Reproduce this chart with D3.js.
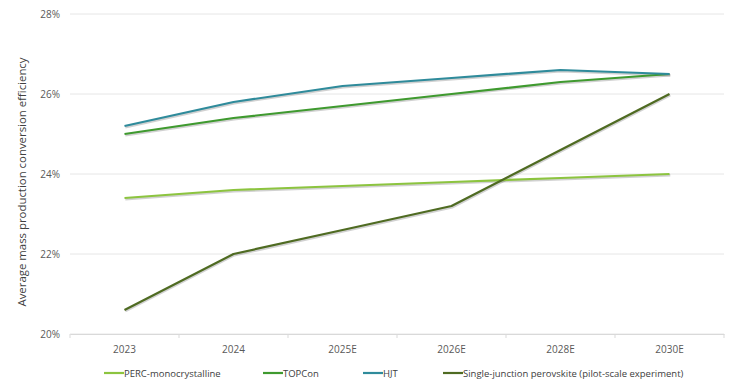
<!DOCTYPE html>
<html>
<head>
<meta charset="utf-8">
<script src="https://cdn.jsdelivr.net/npm/d3@7"></script>
<style>
  body { margin: 0; background: #fff; }
  text { font-family: "Open Sans", "Liberation Sans", sans-serif; fill: #595959; }
</style>
</head>
<body>
<div id="chart"></div>
<script>
  const years = ['2023', '2024', '2025E', '2026E', '2028E', '2030E'];
  const perc = [23.4, 23.6, 23.7, 23.8, 23.9, 24.0];
  const topcon = [25.0, 25.4, 25.7, 26.0, 26.3, 26.5];
  const hjt = [25.2, 25.8, 26.2, 26.4, 26.6, 26.5];
  const perovskite = [20.6, 22.0, 22.6, 23.2, 24.6, 26.0];
  const yTicks = [20, 22, 24, 26, 28];

  const series = [
    { name: 'PERC-monocrystalline', values: perc, color: '#8cc43f' },
    { name: 'TOPCon', values: topcon, color: '#3f9a2f' },
    { name: 'HJT', values: hjt, color: '#2f8b9b' },
    { name: 'Single-junction perovskite (pilot-scale experiment)', values: perovskite, color: '#4f6b22' }
  ];

  const width = 741;
  const height = 389;
  const margin = { top: 14, right: 17, bottom: 55, left: 70 };

  const svg = d3.select('#chart')
    .append('svg')
    .attr('width', width)
    .attr('height', height);

  const x = d3.scaleBand()
    .domain(years)
    .range([margin.left, width - margin.right]);

  const y = d3.scaleLinear()
    .domain([20, 28])
    .range([height - margin.bottom, margin.top]);

  // gridlines
  svg.append('g')
    .selectAll('line')
    .data(yTicks)
    .enter()
    .append('line')
    .attr('x1', margin.left)
    .attr('x2', width - margin.right)
    .attr('y1', d => y(d))
    .attr('y2', d => y(d))
    .style('stroke', '#e6e6e6')
    .style('stroke-width', 1);

  // y axis labels
  const yAxis = svg.append('g')
    .attr('transform', `translate(${margin.left}, 0)`)
    .call(d3.axisLeft(y).tickValues(yTicks).tickSize(0).tickPadding(10).tickFormat(d => d + '%'));
  yAxis.select('.domain').remove();
  yAxis.selectAll('text').style('font-size', '10px').style('fill', '#595959');

  // x axis
  const xAxis = svg.append('g')
    .attr('transform', `translate(0, ${y(20)})`)
    .call(d3.axisBottom(x).tickSize(0).tickPadding(12));
  xAxis.select('.domain').style('stroke', '#d9d9d9');
  xAxis.selectAll('text').style('font-size', '10px').style('fill', '#595959');

  // band edge tick marks
  svg.append('g')
    .selectAll('line')
    .data(years.concat(['end']))
    .enter()
    .append('line')
    .attr('x1', (d, i) => margin.left + i * x.step())
    .attr('x2', (d, i) => margin.left + i * x.step())
    .attr('y1', y(20))
    .attr('y2', y(20) + 4)
    .style('stroke', '#d9d9d9');

  // y axis title
  svg.append('text')
    .attr('transform', `translate(26, 182) rotate(-90)`)
    .attr('text-anchor', 'middle')
    .style('font-size', '11.4px')
    .style('fill', '#404040')
    .text('Average mass production conversion efficiency');

  const line = d3.line()
    .x((d, i) => x(years[i]) + x.bandwidth() / 2)
    .y(d => y(d));

  // shadow under lines
  svg.append('g')
    .selectAll('path')
    .data(series)
    .enter()
    .append('path')
    .attr('d', d => line(d.values))
    .attr('transform', 'translate(0.8, 1.2)')
    .style('fill', 'none')
    .style('stroke', '#000')
    .style('stroke-opacity', 0.18)
    .style('stroke-width', 2.5);

  svg.append('g')
    .selectAll('path')
    .data(series)
    .enter()
    .append('path')
    .attr('d', d => line(d.values))
    .style('fill', 'none')
    .style('stroke', d => d.color)
    .style('stroke-width', 2.2)
    .style('stroke-linejoin', 'round');

  // legend
  const legendX = [104, 263, 363, 443];
  const legend = svg.append('g').attr('transform', `translate(0, ${height - 16})`);
  series.forEach((s, i) => {
    const g = legend.append('g').attr('transform', `translate(${legendX[i]}, 0)`);
    g.append('line')
      .attr('x1', 0).attr('x2', 20)
      .attr('y1', 0).attr('y2', 0)
      .style('stroke', s.color)
      .style('stroke-width', 2.2);
    g.append('text')
      .attr('x', 20)
      .attr('y', 3.5)
      .style('font-size', '9.5px')
      .style('fill', '#404040')
      .text(s.name);
  });
</script>
</body>
</html>
